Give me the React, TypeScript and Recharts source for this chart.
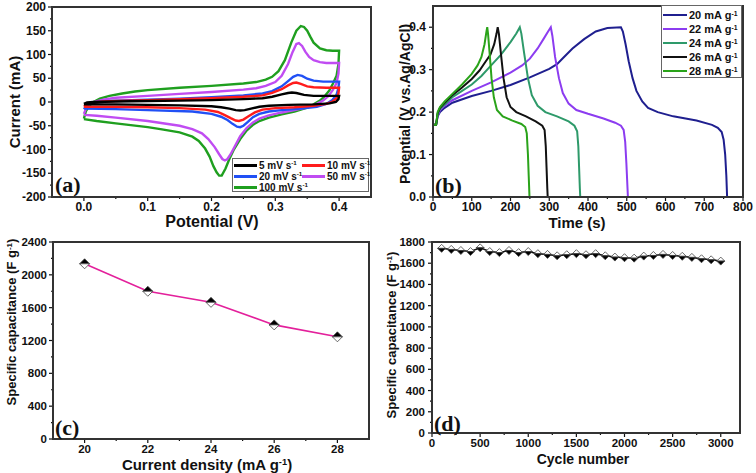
import React from 'react';
import { LineChart, Line, XAxis, YAxis } from 'recharts';

const SANS = '"Liberation Sans", Arial, Helvetica, sans-serif';
const SERIF = '"Liberation Serif", "Times New Roman", serif';
const FRAME = { stroke: '#2a2a2a', strokeWidth: 2 };

// (a) cyclic voltammetry: [potential (V), current (mA)], forward then reverse sweep
const cv100: [number, number][] = [
  [0, -35], [0.003, -20], [0.008, -8], [0.015, 0], [0.025, 7], [0.04, 13], [0.06, 18], [0.08, 22],
  [0.1, 25], [0.15, 30], [0.2, 34], [0.25, 39], [0.27, 42], [0.285, 47], [0.295, 53], [0.305, 65],
  [0.315, 88], [0.325, 125], [0.333, 150], [0.34, 160], [0.345, 158], [0.35, 150], [0.355, 137],
  [0.36, 125], [0.37, 113], [0.38, 109], [0.39, 108], [0.4, 108],
  [0.399, 80], [0.396, 55], [0.39, 38], [0.385, 25], [0.378, 13], [0.37, 3], [0.36, -5], [0.35, -12],
  [0.33, -20], [0.31, -26], [0.29, -33], [0.275, -40], [0.265, -48], [0.255, -60], [0.245, -78],
  [0.235, -100], [0.228, -120], [0.222, -140], [0.216, -155], [0.212, -155], [0.208, -148],
  [0.203, -135], [0.197, -115], [0.19, -98], [0.18, -82], [0.17, -73], [0.15, -64], [0.12, -57],
  [0.1, -53], [0.05, -45], [0.02, -40], [0, -36],
];
const cv50: [number, number][] = [
  [0, -25], [0.003, -15], [0.008, -6], [0.015, 0], [0.03, 5], [0.05, 9], [0.1, 13], [0.15, 17],
  [0.2, 21], [0.25, 26], [0.27, 29], [0.285, 34], [0.3, 42], [0.31, 55], [0.32, 80], [0.327, 105],
  [0.333, 122], [0.337, 124], [0.342, 118], [0.347, 106], [0.353, 95], [0.36, 88], [0.37, 84],
  [0.38, 82], [0.4, 82],
  [0.399, 60], [0.396, 40], [0.39, 25], [0.383, 12], [0.375, 3], [0.365, -4], [0.35, -11],
  [0.33, -17], [0.31, -22], [0.29, -28], [0.275, -35], [0.265, -43], [0.255, -55], [0.245, -72],
  [0.237, -92], [0.23, -110], [0.225, -120], [0.221, -123], [0.217, -120], [0.212, -110],
  [0.205, -95], [0.195, -78], [0.185, -66], [0.17, -57], [0.15, -50], [0.1, -40], [0.05, -33],
  [0.02, -29], [0, -27],
];
const cv20: [number, number][] = [
  [0, -15], [0.004, -8], [0.01, -3], [0.02, 0], [0.05, 3], [0.1, 5], [0.15, 7], [0.2, 10],
  [0.25, 14], [0.28, 18], [0.295, 23], [0.31, 33], [0.32, 44], [0.328, 53], [0.335, 57],
  [0.342, 55], [0.35, 49], [0.36, 45], [0.375, 43], [0.4, 43],
  [0.399, 30], [0.396, 15], [0.39, 5], [0.38, -4], [0.365, -10], [0.34, -14], [0.31, -17],
  [0.29, -20], [0.275, -25], [0.265, -32], [0.257, -42], [0.25, -50], [0.245, -53], [0.24, -52],
  [0.233, -46], [0.225, -38], [0.215, -31], [0.2, -25], [0.17, -20], [0.1, -17], [0.05, -15], [0, -14],
];
const cv10: [number, number][] = [
  [0, -10], [0.005, -5], [0.012, -1], [0.03, 1], [0.05, 2], [0.1, 4], [0.15, 6], [0.2, 8],
  [0.25, 11], [0.28, 14], [0.295, 19], [0.31, 27], [0.32, 35], [0.328, 40], [0.333, 41],
  [0.34, 38], [0.35, 33], [0.36, 31], [0.38, 30], [0.4, 30],
  [0.399, 18], [0.396, 8], [0.39, 1], [0.38, -4], [0.36, -8], [0.33, -11], [0.3, -13], [0.28, -16],
  [0.268, -22], [0.258, -30], [0.25, -37], [0.243, -40], [0.238, -39], [0.23, -34], [0.22, -27],
  [0.21, -21], [0.19, -16], [0.15, -13], [0.1, -11], [0.05, -10], [0, -10],
];
const cv5: [number, number][] = [
  [0, -4], [0.005, -1], [0.015, 0], [0.05, 1], [0.1, 2], [0.15, 3], [0.2, 4], [0.25, 6], [0.28, 8],
  [0.295, 11], [0.31, 16], [0.32, 19], [0.326, 20], [0.333, 19], [0.345, 15], [0.36, 13], [0.38, 13],
  [0.4, 13],
  [0.399, 6], [0.395, 0], [0.385, -3], [0.36, -5], [0.32, -6], [0.29, -8], [0.275, -10], [0.262, -14],
  [0.252, -17], [0.245, -18], [0.238, -17], [0.228, -14], [0.215, -11], [0.2, -9], [0.15, -7],
  [0.1, -6], [0.05, -5], [0, -5],
];

// (b) charge-discharge: [time (s), potential (V)]
const gcd20: [number, number][] = [
  [0, 0.17], [8, 0.17], [12, 0.19], [18, 0.2], [30, 0.21], [50, 0.222], [100, 0.238], [150, 0.25],
  [200, 0.264], [250, 0.282], [300, 0.302], [320, 0.313], [335, 0.327], [360, 0.35], [390, 0.372],
  [420, 0.39], [450, 0.398], [485, 0.4], [490, 0.39], [497, 0.36], [505, 0.32], [515, 0.28],
  [525, 0.25], [540, 0.225], [555, 0.21], [580, 0.2], [620, 0.19], [680, 0.18], [720, 0.17],
  [735, 0.163], [745, 0.153], [750, 0.135], [754, 0.1], [757, 0.05], [759, 0],
];
const gcd22: [number, number][] = [
  [0, 0.17], [8, 0.17], [12, 0.19], [18, 0.205], [30, 0.215], [50, 0.228], [100, 0.25], [150, 0.27],
  [200, 0.293], [230, 0.31], [250, 0.326], [270, 0.35], [285, 0.372], [297, 0.39], [304, 0.4],
  [308, 0.38], [315, 0.33], [325, 0.28], [335, 0.245], [350, 0.22], [370, 0.205], [400, 0.196],
  [440, 0.185], [470, 0.175], [485, 0.168], [492, 0.158], [496, 0.13], [499, 0.08], [502, 0.02], [503, 0],
];
const gcd24: [number, number][] = [
  [0, 0.17], [8, 0.17], [12, 0.195], [18, 0.208], [30, 0.218], [50, 0.235], [75, 0.25], [100, 0.265],
  [125, 0.285], [150, 0.31], [175, 0.335], [200, 0.365], [215, 0.385], [224, 0.4], [228, 0.385],
  [235, 0.34], [245, 0.28], [255, 0.24], [270, 0.215], [290, 0.2], [320, 0.19], [350, 0.178],
  [365, 0.168], [372, 0.155], [375, 0.12], [377, 0.07], [379, 0.02], [380, 0],
];
const gcd26: [number, number][] = [
  [0, 0.17], [8, 0.17], [12, 0.197], [18, 0.21], [30, 0.222], [50, 0.24], [75, 0.258], [100, 0.278],
  [120, 0.298], [135, 0.318], [148, 0.335], [158, 0.36], [164, 0.385], [167, 0.4], [170, 0.385],
  [175, 0.34], [182, 0.28], [190, 0.235], [200, 0.212], [215, 0.2], [240, 0.19], [265, 0.178],
  [282, 0.168], [288, 0.158], [291, 0.12], [293, 0.07], [295, 0.02], [296, 0],
];
const gcd28: [number, number][] = [
  [0, 0.17], [8, 0.17], [12, 0.2], [18, 0.212], [30, 0.225], [50, 0.243], [75, 0.265], [100, 0.29],
  [115, 0.31], [125, 0.33], [133, 0.36], [138, 0.39], [140, 0.4], [142, 0.385], [146, 0.34],
  [151, 0.28], [157, 0.235], [165, 0.205], [180, 0.19], [205, 0.18], [228, 0.172], [238, 0.165],
  [242, 0.15], [245, 0.1], [247, 0.05], [249, 0],
];

// (c) rate capability
const densities = [20, 22, 24, 26, 28];
const capacitances = [2135, 1800, 1665, 1390, 1245];

// (d) cycling stability
const cycles = [
  100, 200, 300, 400, 500, 600, 700, 800, 900, 1000, 1100, 1200, 1300, 1400, 1500,
  1600, 1700, 1800, 1900, 2000, 2100, 2200, 2300, 2400, 2500, 2600, 2700, 2800, 2900, 3000,
];
const cycleCap = [
  1740, 1730, 1720, 1710, 1745, 1710, 1700, 1720, 1700, 1710, 1690, 1683, 1670, 1680, 1690,
  1680, 1690, 1670, 1658, 1652, 1648, 1667, 1673, 1683, 1673, 1665, 1655, 1642, 1632, 1620,
];

// tick positions
const aXMajor = [0, 0.1, 0.2, 0.3, 0.4];
const aXMinor = [0.05, 0.15, 0.25, 0.35];
const aYMajor = [-200, -150, -100, -50, 0, 50, 100, 150, 200];
const aYMinor = [-175, -125, -75, -25, 25, 75, 125, 175];
const bXMajor = [0, 100, 200, 300, 400, 500, 600, 700, 800];
const bXMinor = [50, 150, 250, 350, 450, 550, 650, 750];
const bYMajor = [0, 0.1, 0.2, 0.3, 0.4];
const bYMinor = [0.05, 0.15, 0.25, 0.35];
const cXMajor = [20, 22, 24, 26, 28];
const cXMinor = [21, 23, 25, 27];
const cYMajor = [0, 400, 800, 1200, 1600, 2000, 2400];
const cYMinor = [200, 600, 1000, 1400, 1800, 2200];
const dXMajor = [0, 500, 1000, 1500, 2000, 2500, 3000];
const dXMinor = [250, 750, 1250, 1750, 2250, 2750];
const dYMajor = [0, 200, 400, 600, 800, 1000, 1200, 1400, 1600, 1800];
const dYMinor = [100, 300, 500, 700, 900, 1100, 1300, 1500, 1700];

const cvSeries = [
  { label: '100 mV s', pts: cv100, color: '#1f9f1f' },
  { label: '50 mV s', pts: cv50, color: '#c04cf2' },
  { label: '20 mV s', pts: cv20, color: '#2150f5' },
  { label: '10 mV s', pts: cv10, color: '#ff1c1c' },
  { label: '5 mV s', pts: cv5, color: '#000000' },
];
const gcdSeries = [
  { label: '20 mA g', pts: gcd20, color: '#1f1f8f' },
  { label: '22 mA g', pts: gcd22, color: '#8c3cf0' },
  { label: '24 mA g', pts: gcd24, color: '#2e9a6a' },
  { label: '26 mA g', pts: gcd26, color: '#111111' },
  { label: '28 mA g', pts: gcd28, color: '#2aa31a' },
];

const toXY = (arr: [number, number][]) => arr.map(([x, y]) => ({ x, y }));
const rateData = densities.map((d, i) => ({ x: d, y: capacitances[i] }));
const cycleData = cycles.map((c, i) => ({ x: c, y: cycleCap[i] }));

const near = (list: number[], v: number) => list.some((m) => Math.abs(m - v) < 1e-9);

function makeTick(side: 'left' | 'bottom', majors: number[], fmt: (v: number) => string, gap: number, size = 12) {
  return (p: any) => {
    const { x, y, payload } = p;
    const v = payload.value;
    const major = near(majors, v);
    const len = major ? 4 : 2;
    const txt = { fontFamily: SANS, fontWeight: 700, fontSize: size, fill: '#111' };
    if (side === 'bottom') {
      return (
        <g>
          <line x1={x} x2={x} y1={y} y2={y + len} stroke="#111" strokeWidth={1.2} />
          {major && (
            <text x={x} y={y + gap} textAnchor="middle" style={txt}>
              {fmt(v)}
            </text>
          )}
        </g>
      );
    }
    return (
      <g>
        <line x1={x} x2={x - len} y1={y} y2={y} stroke="#111" strokeWidth={1.2} />
        {major && (
          <text x={x - gap} y={y + size * 0.35} textAnchor="end" style={txt}>
            {fmt(v)}
          </text>
        )}
      </g>
    );
  };
}

const fix1 = (v: number) => v.toFixed(1);
const int = (v: number) => String(Math.round(v));

function Sup({ children }: { children: React.ReactNode }) {
  return <span style={{ fontSize: '0.62em', position: 'relative', top: '-0.5em', lineHeight: 0 }}>{children}</span>;
}

function Title({ cx, cy, size, vertical, children }: any) {
  return (
    <div
      style={{
        position: 'absolute',
        left: cx,
        top: cy,
        transform: `translate(-50%, -50%)${vertical ? ' rotate(-90deg)' : ''}`,
        whiteSpace: 'nowrap',
        fontFamily: SANS,
        fontWeight: 700,
        fontSize: size,
        lineHeight: 1,
        color: '#111',
      }}
    >
      {children}
    </div>
  );
}

function PanelTag({ left, top, children }: any) {
  return (
    <div
      style={{
        position: 'absolute',
        left,
        top,
        fontFamily: SERIF,
        fontWeight: 700,
        fontSize: 22,
        lineHeight: 1,
        color: '#111',
      }}
    >
      {children}
    </div>
  );
}

// box around each plot area
function Box({ left, top, width, height }: any) {
  return (
    <div
      style={{
        position: 'absolute',
        left,
        top,
        width,
        height,
        boxSizing: 'border-box',
        border: '2px solid #333',
        pointerEvents: 'none',
      }}
    />
  );
}

function LegendRow({ left, top, color, lineW, thick, size, label, sup }: any) {
  return (
    <div style={{ position: 'absolute', left, top, display: 'flex', alignItems: 'center', height: 10 }}>
      <div style={{ width: lineW, height: thick, background: color, marginRight: 2 }} />
      <span style={{ fontFamily: SANS, fontWeight: 700, fontSize: size, color: '#111', whiteSpace: 'nowrap' }}>
        {label}
        <Sup>{sup}</Sup>
      </span>
    </div>
  );
}

function HalfDiamond(props: any) {
  const { cx, cy, r, topFill, bottomFill } = props;
  if (cx == null || cy == null) return null;
  return (
    <g>
      <polygon points={`${cx - r},${cy} ${cx},${cy - r} ${cx + r},${cy}`} fill={topFill} stroke="#444" strokeWidth={0.8} />
      <polygon points={`${cx - r},${cy} ${cx},${cy + r} ${cx + r},${cy}`} fill={bottomFill} stroke="#444" strokeWidth={0.8} />
    </g>
  );
}

// axes take 1px so Recharts still renders them; ticks are drawn by makeTick
const axisCommon = {
  axisLine: FRAME,
  tickLine: false,
  tickSize: 0,
  tickMargin: 0,
  interval: 0 as const,
};

// top and right axes only close the frame
function frameAxes() {
  return [
    <XAxis key="top" xAxisId="top" orientation="top" type="number" domain={[0, 1]} height={1} tick={false} tickLine={false} axisLine={FRAME} />,
    <YAxis key="right" yAxisId="right" orientation="right" type="number" domain={[0, 1]} width={1} tick={false} tickLine={false} axisLine={FRAME} />,
  ];
}

export default function App() {
  return (
    <div style={{ position: 'absolute', left: 0, top: 0, width: 756, height: 473, background: '#fff', overflow: 'hidden' }}>
      {/* (a) CV */}
      <div style={{ position: 'absolute', left: 0, top: 0 }}>
        <LineChart width={380} height={235} margin={{ top: 6, right: 8, bottom: 37, left: 51 }}>
          <XAxis
            type="number"
            dataKey="x"
            domain={[-0.05, 0.45]}
            allowDataOverflow
            height={1}
            ticks={[...aXMajor, ...aXMinor]}
            tick={makeTick('bottom', aXMajor, fix1, 14)}
            {...axisCommon}
          />
          <YAxis
            type="number"
            domain={[-200, 200]}
            allowDataOverflow
            width={1}
            ticks={[...aYMajor, ...aYMinor]}
            tick={makeTick('left', aYMajor, int, 6)}
            {...axisCommon}
          />
          {frameAxes()}
          {cvSeries.map((s) => (
            <Line
              key={s.label}
              data={toXY(s.pts)}
              dataKey="y"
              type="linear"
              stroke={s.color}
              strokeWidth={2.4}
              dot={false}
              isAnimationActive={false}
            />
          ))}
        </LineChart>
      </div>

      {/* (b) GCD */}
      <div style={{ position: 'absolute', left: 376, top: 0 }}>
        <LineChart width={380} height={235} margin={{ top: 5, right: 12, bottom: 37, left: 56 }}>
          <XAxis
            type="number"
            dataKey="x"
            domain={[0, 800]}
            allowDataOverflow
            height={1}
            ticks={[...bXMajor, ...bXMinor]}
            tick={makeTick('bottom', bXMajor, int, 14)}
            {...axisCommon}
          />
          <YAxis
            type="number"
            domain={[0, 0.45]}
            allowDataOverflow
            width={1}
            ticks={[...bYMajor, ...bYMinor]}
            tick={makeTick('left', bYMajor, fix1, 7)}
            {...axisCommon}
          />
          {frameAxes()}
          {gcdSeries.map((s) => (
            <Line
              key={s.label}
              data={toXY(s.pts)}
              dataKey="y"
              type="linear"
              stroke={s.color}
              strokeWidth={2}
              dot={false}
              isAnimationActive={false}
            />
          ))}
        </LineChart>
      </div>

      {/* (c) rate capability */}
      <div style={{ position: 'absolute', left: 0, top: 236 }}>
        <LineChart width={380} height={237} data={rateData} margin={{ top: 5, right: 10, bottom: 33, left: 52 }}>
          <XAxis
            type="number"
            dataKey="x"
            domain={[19, 29]}
            allowDataOverflow
            height={1}
            ticks={[...cXMajor, ...cXMinor]}
            tick={makeTick('bottom', cXMajor, int, 14, 11.5)}
            {...axisCommon}
          />
          <YAxis
            type="number"
            domain={[0, 2400]}
            allowDataOverflow
            width={1}
            ticks={[...cYMajor, ...cYMinor]}
            tick={makeTick('left', cYMajor, int, 6, 11.5)}
            {...axisCommon}
          />
          {frameAxes()}
          <Line
            dataKey="y"
            type="linear"
            stroke="#e3209b"
            strokeWidth={1.6}
            dot={(p: any) => <HalfDiamond key={p.index} cx={p.cx} cy={p.cy} r={5} topFill="#000" bottomFill="#fff" />}
            isAnimationActive={false}
          />
        </LineChart>
      </div>

      {/* (d) cycling */}
      <div style={{ position: 'absolute', left: 376, top: 236 }}>
        <LineChart width={380} height={237} data={cycleData} margin={{ top: 5, right: 15, bottom: 39, left: 55 }}>
          <XAxis
            type="number"
            dataKey="x"
            domain={[0, 3200]}
            allowDataOverflow
            height={1}
            ticks={[...dXMajor, ...dXMinor]}
            tick={makeTick('bottom', dXMajor, int, 14, 11.5)}
            {...axisCommon}
          />
          <YAxis
            type="number"
            domain={[0, 1800]}
            allowDataOverflow
            width={1}
            ticks={[...dYMajor, ...dYMinor]}
            tick={makeTick('left', dYMajor, int, 7, 11.5)}
            {...axisCommon}
          />
          {frameAxes()}
          <Line
            dataKey="y"
            type="linear"
            stroke="#111"
            strokeWidth={1.5}
            dot={(p: any) => <HalfDiamond key={p.index} cx={p.cx} cy={p.cy} r={4} topFill="#fff" bottomFill="#000" />}
            isAnimationActive={false}
          />
        </LineChart>
      </div>

      <Box left={51} top={6} width={321} height={192} />
      <Box left={432} top={5} width={312} height={193} />
      <Box left={52} top={241} width={318} height={199} />
      <Box left={431} top={241} width={310} height={193} />

      {/* axis titles */}
      <Title cx={14} cy={102} size={15} vertical>Current (mA)</Title>
      <Title cx={212} cy={222} size={16}>Potential (V)</Title>
      <Title cx={405} cy={104} size={14} vertical>Potential (V vs.Ag/AgCl)</Title>
      <Title cx={577} cy={222} size={15}>Time (s)</Title>
      <Title cx={11} cy={322} size={13} vertical>
        Specific capacitance (F g<Sup>-1</Sup>)
      </Title>
      <Title cx={207} cy={464} size={15}>
        Current density (mA g<Sup>-1</Sup>)
      </Title>
      <Title cx={391} cy={335} size={13} vertical>
        Specific capacitance (F g<Sup>-1</Sup>)
      </Title>
      <Title cx={583} cy={459} size={14}>Cycle number</Title>

      {/* panel tags */}
      <PanelTag left={55} top={174}>(a)</PanelTag>
      <PanelTag left={435} top={175}>(b)</PanelTag>
      <PanelTag left={55} top={417}>(c)</PanelTag>
      <PanelTag left={434} top={413}>(d)</PanelTag>

      {/* legend (a) */}
      <div style={{ position: 'absolute', left: 232, top: 158, width: 137, height: 34, border: '1px solid #666', boxSizing: 'border-box', background: '#fff' }} />
      <LegendRow left={234} top={160} color="#000000" lineW={23} thick={3} size={10} label="5 mV s" sup="-1" />
      <LegendRow left={302} top={160} color="#ff1c1c" lineW={23} thick={3} size={10} label="10 mV s" sup="-1" />
      <LegendRow left={234} top={171} color="#2150f5" lineW={23} thick={3} size={10} label="20 mV s" sup="-1" />
      <LegendRow left={302} top={171} color="#c04cf2" lineW={23} thick={3} size={10} label="50 mV s" sup="-1" />
      <LegendRow left={234} top={182} color="#1f9f1f" lineW={23} thick={3} size={10} label="100 mV s" sup="-1" />

      {/* legend (b) */}
      <div style={{ position: 'absolute', left: 661, top: 5, width: 81, height: 73, border: '1px solid #666', boxSizing: 'border-box', background: '#fff' }} />
      {gcdSeries.map((s, i) => (
        <LegendRow key={s.label} left={663} top={10 + i * 14} color={s.color} lineW={24} thick={2} size={11} label={s.label} sup="-1" />
      ))}
    </div>
  );
}
